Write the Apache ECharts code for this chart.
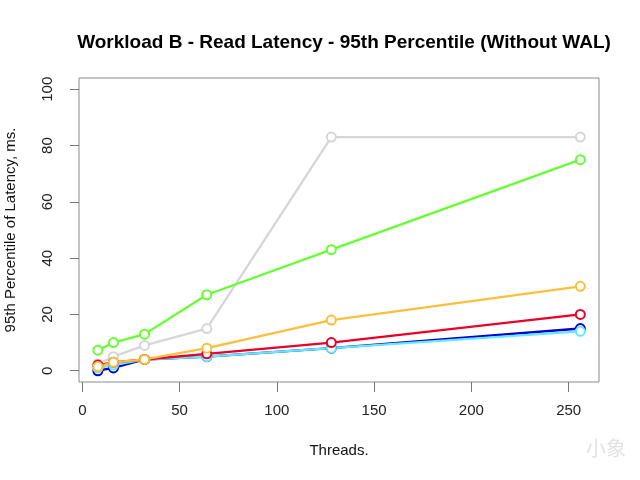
<!DOCTYPE html>
<html>
<head>
<meta charset="utf-8">
<script src="https://cdn.jsdelivr.net/npm/echarts@6/dist/echarts.min.js"></script>
<style>
  html, body { margin: 0; padding: 0; background: #fff; }
  #chart { width: 640px; height: 480px; }
</style>
</head>
<body>
<div id="chart"></div>
<script>
// threads on x axis
var threads = [8, 16, 32, 64, 128, 256];
var xTicks = [0, 50, 100, 150, 200, 250];
var yTicks = [0, 20, 40, 60, 80, 100];

// 95th percentile latency, ms.
var grayVals   = [2.4, 5, 9, 15, 83, 83];
var greenVals  = [7.3, 10, 13, 27, 43, 75];
var orangeVals = [1.5, 3, 4, 8, 18, 30];
var redVals    = [2, 3, 4, 6, 10, 20];
var blueVals   = [0, 1, 4, 5, 8, 15];
var cyanVals   = [1, 2, 4, 5, 8, 14];

var chart = echarts.init(document.getElementById('chart'));

function pairs(vals) {
    return threads.map(function (t, i) { return [t, vals[i]]; });
}

function mkSeries(name, vals, color) {
    return {
        name: name,
        type: 'line',
        data: pairs(vals),
        symbol: 'emptyCircle',
        symbolSize: 9,
        showSymbol: true,
        lineStyle: { color: color, width: 2.3 },
        itemStyle: { color: color, borderColor: color, borderWidth: 2.3 },
        animation: false
    };
}

var option = {
    backgroundColor: '#fff',
    textStyle: { fontFamily: 'Liberation Sans' },
    title: {
        text: 'Workload B - Read Latency - 95th Percentile (Without WAL)',
        left: 339,
        top: 28,
        textAlign: 'center',
        textStyle: { fontSize: 19, fontWeight: 'bold', color: '#000', fontFamily: 'Liberation Sans' }
    },
    grid: {
        left: 79, right: 41, top: 78, bottom: 98,
        outerBoundsMode: 'none',
        containLabel: false,
        show: true, borderColor: '#8a8a8a', borderWidth: 1
    },
    xAxis: {
        type: 'value',
        min: -1.7,
        max: 265.6,
        name: 'Threads.',
        nameLocation: 'middle',
        nameGap: 61,
        nameTextStyle: { fontSize: 15, color: '#111' },
        splitLine: { show: false },
        axisLine: { show: false, onZero: false },
        axisTick: { show: true, length: 10, customValues: xTicks, lineStyle: { color: '#777' } },
        axisLabel: { customValues: xTicks, margin: 21, fontSize: 15, color: '#222' }
    },
    yAxis: {
        type: 'value',
        min: -4,
        max: 104,
        name: '95th Percentile of Latency, ms.',
        nameLocation: 'middle',
        nameRotate: 90,
        nameGap: 61,
        nameTextStyle: { fontSize: 15, color: '#111' },
        splitLine: { show: false },
        axisLine: { show: false, onZero: false },
        axisTick: { show: true, length: 9, customValues: yTicks, lineStyle: { color: '#777' } },
        axisLabel: { customValues: yTicks, rotate: 90, margin: 24, fontSize: 15, color: '#222' }
    },
    graphic: [{
        type: 'text',
        right: 14,
        top: 438,
        style: { text: '小象', fontSize: 20, fill: '#e2e2e2', fontFamily: 'Noto Sans CJK SC' }
    }],
    series: [
        mkSeries('gray', grayVals, '#d6d6d6'),
        mkSeries('blue', blueVals, '#0000cc'),
        mkSeries('cyan', cyanVals, '#66e8ff'),
        mkSeries('red', redVals, '#e8002a'),
        mkSeries('orange', orangeVals, '#fbbf3c'),
        mkSeries('green', greenVals, '#66ff33')
    ]
};
chart.setOption(option);
</script>
</body>
</html>
